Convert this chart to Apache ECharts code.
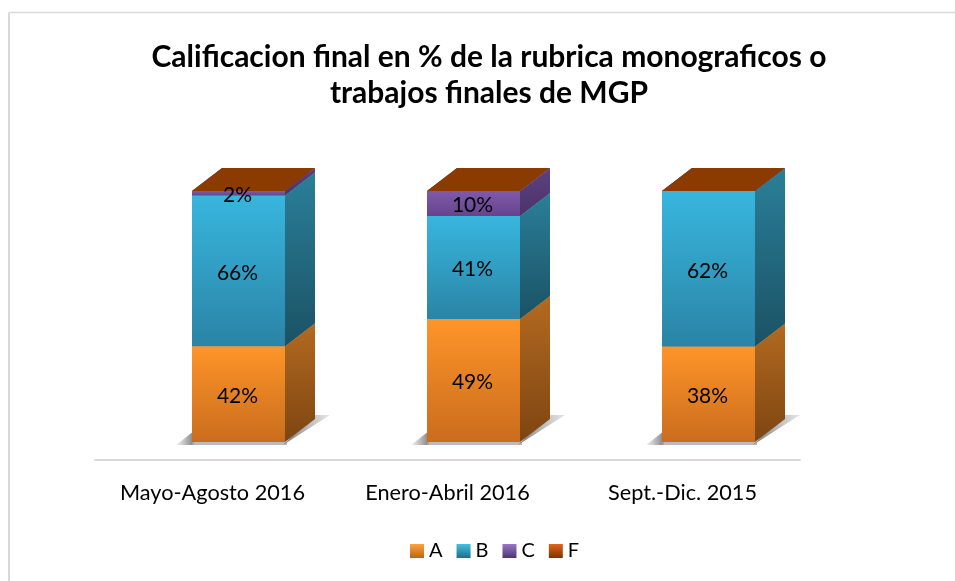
<!DOCTYPE html>
<html>
<head>
<meta charset="utf-8">
<title>Calificacion final</title>
<script src="https://cdn.jsdelivr.net/npm/echarts@6/dist/echarts.min.js"></script>
<style>
  html, body { margin: 0; padding: 0; background: #fff; }
  #chart { width: 955px; height: 581px; }
</style>
</head>
<body>
<div id="chart"></div>
<script>
const titleText = 'Calificacion final en % de la rubrica monograficos o\ntrabajos finales de MGP'
const categories = ['Mayo-Agosto 2016', 'Enero-Abril 2016', 'Sept.-Dic. 2015']
const gradeA = [42, 49, 38]
const gradeB = [66, 41, 62]
const gradeC = [2, 10, 0]
const gradeF = [0, 0, 0]
const seriesNames = ['A', 'B', 'C', 'F']
const seriesValues = [gradeA, gradeB, gradeC, gradeF]

// front top, front bottom, side top, side bottom, top face
const palette = [
  ['#FF9529', '#C96C1D', '#B36A20', '#7E4511', '#B8641A'],
  ['#38B6DE', '#2A84A6', '#2A7F99', '#1B5265', '#2A7F99'],
  ['#8059AC', '#66448C', '#5D4183', '#4A3368', '#5D4183'],
  ['#8B3A00', '#8B3A00', '#8B3A00', '#8B3A00', '#8B3A00']
]
const legendColors = [
  ['#FFA33A', '#B8651C'],
  ['#45C0E0', '#1F6E8C'],
  ['#9A78C8', '#4E3570'],
  ['#E0661A', '#7F3300']
]

const FONT = 'Lato'
const BAR_WIDTH = 93
const BAR_SHIFT = 26 // el frente de la barra va corrido respecto a la etiqueta
const DEPTH_X = 30
const DEPTH_Y = 23

function vGrad(a, b) {
  return new echarts.graphic.LinearGradient(0, 0, 0, 1, [
    { offset: 0, color: a },
    { offset: 1, color: b }
  ])
}

function hGrad(a, b) {
  return new echarts.graphic.LinearGradient(0, 0, 1, 0, [
    { offset: 0, color: a },
    { offset: 1, color: b }
  ])
}

// apilado al 100%: cada columna se normaliza con su propia suma
function buildRows(seriesIdx) {
  return categories.map((c, i) => {
    const total = seriesValues.reduce((s, arr) => s + arr[i], 0)
    let before = 0
    for (let k = 0; k < seriesIdx; k++) before += seriesValues[k][i]
    const raw = seriesValues[seriesIdx][i]
    return [i, before / total * 100, (before + raw) / total * 100, raw]
  })
}

function renderBox(params, api) {
  const colors = palette[params.seriesIndex]
  const bottom = api.coord([api.value(0), api.value(1)])
  const top = api.coord([api.value(0), api.value(2)])
  const raw = api.value(3)
  const x0 = bottom[0] + BAR_SHIFT - BAR_WIDTH / 2
  const x1 = x0 + BAR_WIDTH
  const yb = bottom[1]
  const yt = top[1]
  const children = []

  // sombra suave sobre el piso
  if (params.seriesIndex === 0) {
    children.push({
      type: 'polygon',
      shape: { points: [[x0 - 16, yb + 3], [x0 + 2, yb + 3], [x0 + 2, yb - 11]] },
      style: { fill: hGrad('rgba(140,140,140,0.1)', 'rgba(120,120,120,0.95)') },
      z2: 0
    })
    children.push({
      type: 'rect',
      shape: { x: x0, y: yb, width: BAR_WIDTH + 2, height: 3 },
      style: { fill: 'rgba(170,170,170,0.8)' },
      z2: 0
    })
    children.push({
      type: 'polygon',
      shape: {
        points: [
          [x1 - 2, yb + 3], [x1 + DEPTH_X + 15, yb - DEPTH_Y - 4],
          [x1 + DEPTH_X - 2, yb - DEPTH_Y - 4]
        ]
      },
      style: { fill: hGrad('rgba(110,110,110,0.95)', 'rgba(170,170,170,0.3)') },
      z2: 0
    })
  }
  if (yb > yt) {
    children.push({
      type: 'polygon',
      shape: { points: [[x1, yb], [x1 + DEPTH_X, yb - DEPTH_Y], [x1 + DEPTH_X, yt - DEPTH_Y], [x1, yt]] },
      style: { fill: vGrad(colors[2], colors[3]) },
      z2: 1
    })
    children.push({
      type: 'rect',
      shape: { x: x0, y: yt, width: BAR_WIDTH, height: yb - yt },
      style: { fill: vGrad(colors[0], colors[1]) },
      z2: 1
    })
  }
  children.push({
    type: 'polygon',
    shape: { points: [[x0, yt], [x0 + DEPTH_X, yt - DEPTH_Y], [x1 + DEPTH_X, yt - DEPTH_Y], [x1, yt]] },
    style: { fill: colors[4] },
    z2: 1
  })
  if (raw > 0) {
    children.push({
      type: 'text',
      style: {
        x: (x0 + x1) / 2 - 1,
        y: (yb + yt) / 2 + 2,
        text: raw + '%',
        fill: '#000',
        font: '21px ' + FONT,
        align: 'center',
        verticalAlign: 'middle'
      },
      z2: 100
    })
  }
  return { type: 'group', children }
}

const chart = echarts.init(document.getElementById('chart'), null, { renderer: 'canvas' })
chart.setOption({
  animation: false,
  backgroundColor: '#fff',
  title: {
    text: titleText,
    left: 484,
    top: 34,
    textAlign: 'center',
    textStyle: { fontFamily: FONT, fontWeight: 'bold', fontSize: 30, lineHeight: 36, color: '#000' }
  },
  graphic: [
    { type: 'line', shape: { x1: 9, y1: 12.5, x2: 955, y2: 12.5 }, style: { stroke: '#D9D9D9', lineWidth: 1.5 } },
    { type: 'line', shape: { x1: 9, y1: 12.5, x2: 9, y2: 581 }, style: { stroke: '#D9D9D9', lineWidth: 2 } }
  ],
  legend: {
    data: seriesNames.map((n, i) => ({
      name: n,
      icon: 'rect',
      itemStyle: { color: vGrad(legendColors[i][0], legendColors[i][1]) }
    })),
    left: 410,
    top: 541,
    padding: 0,
    itemWidth: 14,
    itemHeight: 14,
    itemGap: 14,
    textStyle: { fontFamily: FONT, fontSize: 20, color: '#000' },
    selectedMode: false
  },
  grid: { left: 95, right: 155, top: 191, bottom: 139 },
  xAxis: {
    type: 'category',
    data: categories,
    offset: 18,
    axisLine: { show: true, onZero: false, lineStyle: { color: '#D9D9D9', width: 2 } },
    axisTick: { show: false },
    axisLabel: { fontFamily: FONT, fontSize: 21.7, color: '#000', margin: 22, interval: 0, hideOverlap: false }
  },
  yAxis: { type: 'value', min: 0, max: 100, show: false },
  series: seriesNames.map((n, i) => ({
    name: n,
    type: 'custom',
    clip: false,
    renderItem: renderBox,
    encode: { x: 0, y: [1, 2] },
    itemStyle: { color: palette[i][0] },
    data: buildRows(i)
  }))
})
</script>
</body>
</html>
